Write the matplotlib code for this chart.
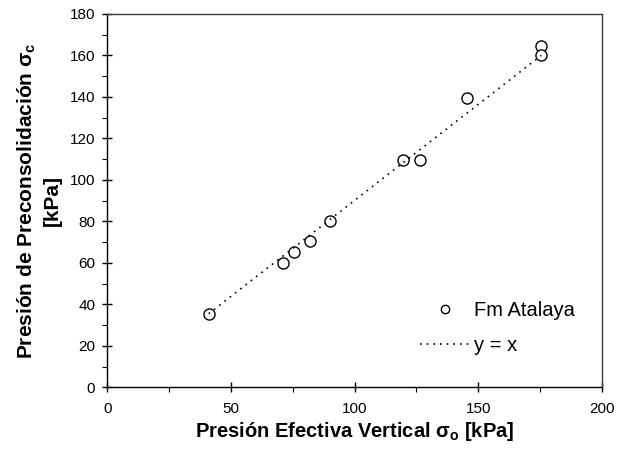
import matplotlib
matplotlib.use("Agg")
import matplotlib.pyplot as plt
from matplotlib.ticker import MultipleLocator

plt.rcParams['font.family'] = ['Liberation Sans', 'DejaVu Sans']
plt.rcParams['mathtext.fontset'] = 'custom'
plt.rcParams['mathtext.rm'] = 'Liberation Sans'
plt.rcParams['mathtext.bf'] = 'Liberation Sans:bold'

# effective vertical stress vs preconsolidation stress, Fm Atalaya samples
sigma_o = [41, 71, 75.5, 82, 90, 119.5, 126.5, 145.5, 175.5, 175.5]
sigma_c = [35.5, 60, 65, 70.5, 80, 109.5, 109.5, 139.5, 164.5, 160]

# reference line as labelled in the legend
line_x = [41, 175.5]
line_y = [35.5, 160]

xticks = [0, 50, 100, 150, 200]
yticks = [0, 20, 40, 60, 80, 100, 120, 140, 160, 180]

fig = plt.figure(figsize=(6.18, 4.51), dpi=100)
ax = fig.add_axes([0.1736, 0.1412, 0.8004, 0.828])

ax.plot(sigma_o, sigma_c, linestyle='none', marker='o', ms=8,
        mfc='white', mec='black', mew=1.0, label='Fm Atalaya')
ax.plot(line_x, line_y, color='black', lw=1.2, linestyle=(0, (1, 3)),
        label='y = x')

ax.set_xlim(0, 200)
ax.set_ylim(0, 180)
ax.set_xticks(xticks)
ax.set_yticks(yticks)
ax.xaxis.set_minor_locator(MultipleLocator(25))
ax.yaxis.set_minor_locator(MultipleLocator(10))

ax.tick_params(axis='both', which='major', direction='inout', length=7.2,
               width=1, labelsize=11)
ax.tick_params(axis='both', which='minor', direction='out', length=3.4,
               width=0.8)
ax.tick_params(axis='x', which='major', pad=7)
ax.tick_params(axis='y', which='major', pad=5)

for side in ('left', 'bottom'):
    ax.spines[side].set_color('black')
    ax.spines[side].set_linewidth(1)
for side in ('top', 'right'):
    ax.spines[side].set_color('#404040')
    ax.spines[side].set_linewidth(1)

ax.set_xlabel('Presión Efectiva Vertical σ$_\\mathbf{o}$ [kPa]',
              fontsize=14.5, fontweight='bold', labelpad=3)
ax.set_ylabel('Presión de Preconsolidación σ$_\\mathbf{c}$\n[kPa]',
              fontsize=15, fontweight='bold', labelpad=6,
              linespacing=1.3)

ax.legend(loc='lower right', bbox_to_anchor=(0.982, 0.038), frameon=False,
          fontsize=14.5, handlelength=2.5, handletextpad=0.2,
          labelspacing=0.8, markerscale=0.75)

fig.savefig('out.png', dpi=100)
